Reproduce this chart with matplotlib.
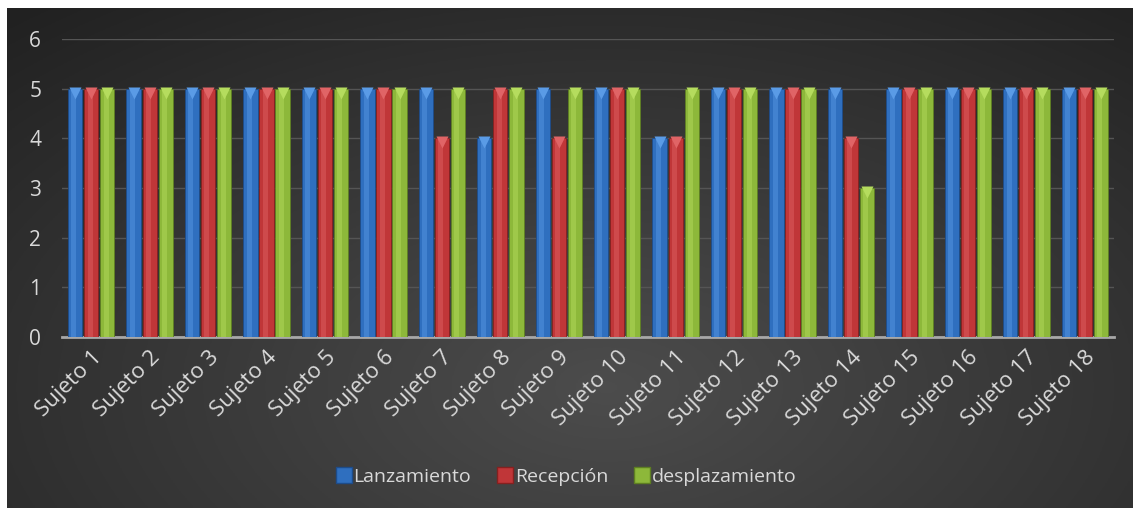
import numpy as np
import matplotlib.pyplot as plt

sujetos = ["Sujeto %d" % i for i in range(1, 19)]
lanzamiento = [5, 5, 5, 5, 5, 5, 5, 4, 5, 5, 4, 5, 5, 5, 5, 5, 5, 5]
recepcion = [5, 5, 5, 5, 5, 5, 4, 5, 4, 5, 4, 5, 5, 4, 5, 5, 5, 5]
desplazamiento = [5, 5, 5, 5, 5, 5, 5, 5, 5, 5, 5, 5, 5, 3, 5, 5, 5, 5]

series = [("Lanzamiento", lanzamiento, "#2f6fbf", "#5a9be6", "#1d4c8a"),
          ("Recepción", recepcion, "#c03638", "#e06466", "#86201f"),
          ("desplazamiento", desplazamiento, "#8db83a", "#b5dc5e", "#5e7f22")]

plt.rcParams['font.family'] = ['Open Sans', 'DejaVu Sans']

fig = plt.figure(figsize=(11.34, 5.08), dpi=100)
fig.patch.set_facecolor("white")

# dark radial background
bg = fig.add_axes([7 / 1134, 0, 1126 / 1134, 500 / 508], zorder=-10)
gx, gy = np.meshgrid(np.linspace(0, 1126, 400), np.linspace(0, 500, 200))
r = np.sqrt(((gx - 600) / 900) ** 2 + ((gy - 120) / 500) ** 2)
shade = np.clip(0.30 - 0.17 * r, 0.13, 0.30)
bg.imshow(np.dstack([shade] * 3), aspect="auto", origin="lower",
          extent=[0, 1, 0, 1])
bg.axis("off")

ax = fig.add_axes([62 / 1134, 171 / 508, 1052 / 1134, 298 / 508])
ax.set_facecolor("none")
x = np.arange(len(sujetos))
w = 0.245
offs = [-0.275, 0, 0.275]
for (name, vals, c, hi, dk), o in zip(series, offs):
    ax.bar(x + o, vals, w, color=c, edgecolor=dk, linewidth=0.6, zorder=3)
    ax.bar(x + o - 0.02, vals, w * 0.35, color=hi, alpha=0.45, linewidth=0, zorder=4)
    ax.plot(x + o, np.array(vals) - 0.08, "v", ms=9, color=hi, mec="none", zorder=5)
    # legend proxy
    ax.plot([], [], "s", ms=11, color=c, mec=dk, label=name)

ax.set_xlim(-0.5, len(sujetos) - 0.5)
ax.set_ylim(0, 6)
ax.set_yticks(range(7))
ax.grid(axis="y", color="#555555", lw=1, zorder=0)
for s in ["top", "right", "left"]:
    ax.spines[s].set_visible(False)
ax.spines["bottom"].set_color("#a8a8a8")
ax.spines["bottom"].set_linewidth(2)
ax.tick_params(axis="both", length=0, colors="#d9d9d9", labelsize=15)
ax.tick_params(axis="y", pad=15)
ax.set_xticks(x)
ax.set_xticklabels(sujetos, rotation=45, ha="right", rotation_mode="anchor", fontsize=16)
ax.tick_params(axis="x", pad=7)

leg = fig.legend(loc="center", bbox_to_anchor=(566 / 1134, 1 - 477 / 508), ncol=3,
                 frameon=False, fontsize=14, handletextpad=0.05, columnspacing=1.3,
                 handlelength=0.9)
for t in leg.get_texts():
    t.set_color("#d9d9d9")

fig.savefig("out.png", dpi=100)
